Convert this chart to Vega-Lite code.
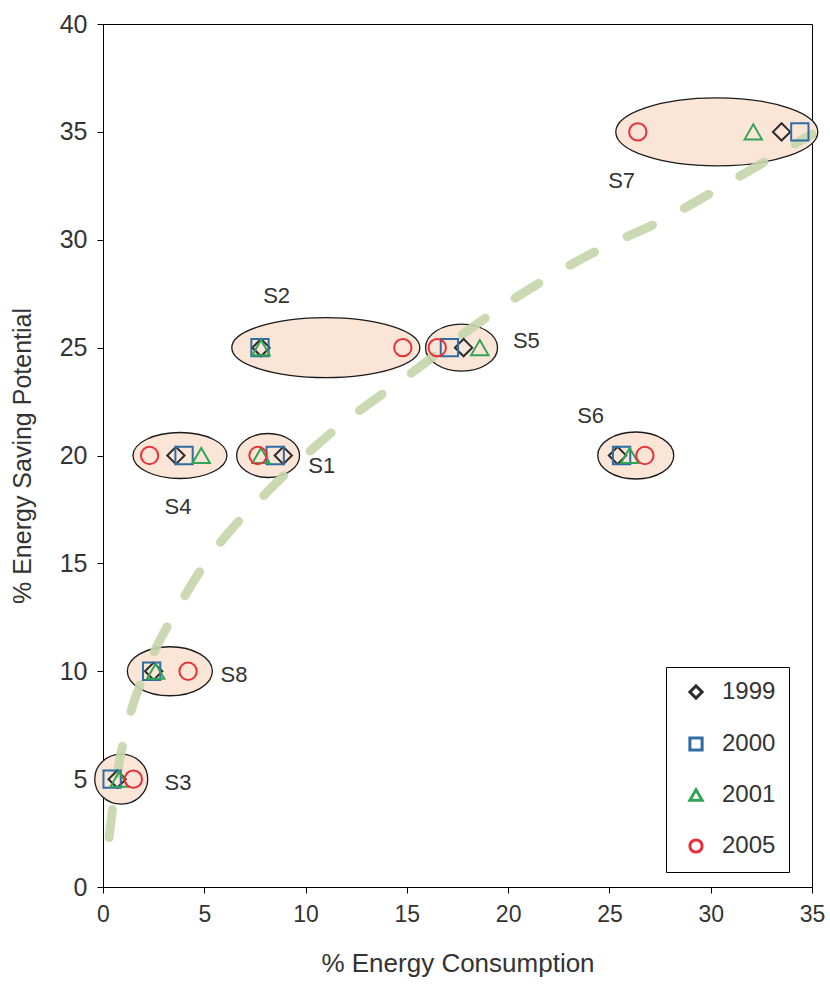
{
  "$schema": "https://vega.github.io/schema/vega-lite/v6.json",
  "width": 709,
  "height": 863,
  "autosize": {"type": "none"},
  "padding": {"left": 103, "top": 24, "right": 18, "bottom": 103},
  "background": "white",
  "config": {
    "font": "Liberation Sans",
    "view": {"stroke": "#000000", "strokeWidth": 1},
    "axis": {
      "grid": false,
      "domainColor": "#000000",
      "tickColor": "#000000",
      "tickSize": 6,
      "labelFlush": false,
      "labelFont": "Liberation Sans",
      "labelColor": "#333333",
      "titleFont": "Liberation Sans",
      "titleFontWeight": "normal",
      "titleColor": "#333333"
    }
  },
  "resolve": {"scale": {"shape": "independent", "color": "independent"}},
  "datasets": {
    "groups": [
      {"group": "S1", "cx": 8.15, "cy": 20},
      {"group": "S2", "cx": 11.0, "cy": 25},
      {"group": "S3", "cx": 0.9, "cy": 5},
      {"group": "S4", "cx": 3.8, "cy": 20},
      {"group": "S5", "cx": 17.7, "cy": 25},
      {"group": "S6", "cx": 26.3, "cy": 20},
      {"group": "S7", "cx": 30.3, "cy": 35},
      {"group": "S8", "cx": 3.3, "cy": 10}
    ],
    "trend": [
      {"x": 0.3, "y": 2.3},
      {"x": 0.7, "y": 5.2},
      {"x": 1.2, "y": 7.5},
      {"x": 2.2, "y": 10.2},
      {"x": 3.55, "y": 12.7},
      {"x": 5.5, "y": 15.6},
      {"x": 8.1, "y": 18.3},
      {"x": 11.2, "y": 21.0},
      {"x": 15.2, "y": 23.8},
      {"x": 19.7, "y": 26.9},
      {"x": 24.4, "y": 29.5},
      {"x": 27.6, "y": 30.9},
      {"x": 30.8, "y": 32.6},
      {"x": 35.0, "y": 34.9}
    ],
    "points": [
      {"group": "S1", "year": "1999", "x": 8.9, "y": 20},
      {"group": "S1", "year": "2000", "x": 8.5, "y": 20},
      {"group": "S1", "year": "2001", "x": 7.8, "y": 20},
      {"group": "S1", "year": "2005", "x": 7.65, "y": 20},
      {"group": "S2", "year": "1999", "x": 7.8, "y": 25},
      {"group": "S2", "year": "2000", "x": 7.75, "y": 25},
      {"group": "S2", "year": "2001", "x": 7.8, "y": 25},
      {"group": "S2", "year": "2005", "x": 14.8, "y": 25},
      {"group": "S3", "year": "1999", "x": 0.7, "y": 5},
      {"group": "S3", "year": "2000", "x": 0.45, "y": 5},
      {"group": "S3", "year": "2001", "x": 0.8, "y": 5},
      {"group": "S3", "year": "2005", "x": 1.5, "y": 5},
      {"group": "S4", "year": "1999", "x": 3.6, "y": 20},
      {"group": "S4", "year": "2000", "x": 4.0, "y": 20},
      {"group": "S4", "year": "2001", "x": 4.85, "y": 20},
      {"group": "S4", "year": "2005", "x": 2.3, "y": 20},
      {"group": "S5", "year": "1999", "x": 17.8, "y": 25},
      {"group": "S5", "year": "2000", "x": 17.1, "y": 25},
      {"group": "S5", "year": "2001", "x": 18.6, "y": 25},
      {"group": "S5", "year": "2005", "x": 16.5, "y": 25},
      {"group": "S6", "year": "1999", "x": 25.4, "y": 20},
      {"group": "S6", "year": "2000", "x": 25.6, "y": 20},
      {"group": "S6", "year": "2001", "x": 26.0, "y": 20},
      {"group": "S6", "year": "2005", "x": 26.75, "y": 20},
      {"group": "S7", "year": "1999", "x": 33.5, "y": 35},
      {"group": "S7", "year": "2000", "x": 34.4, "y": 35},
      {"group": "S7", "year": "2001", "x": 32.1, "y": 35},
      {"group": "S7", "year": "2005", "x": 26.4, "y": 35},
      {"group": "S8", "year": "1999", "x": 2.5, "y": 10},
      {"group": "S8", "year": "2000", "x": 2.4, "y": 10},
      {"group": "S8", "year": "2001", "x": 2.6, "y": 10},
      {"group": "S8", "year": "2005", "x": 4.2, "y": 10}
    ],
    "labels": [
      {"label": "S1", "x": 10.8, "y": 19.5},
      {"label": "S2", "x": 8.57, "y": 27.4},
      {"label": "S3", "x": 3.7, "y": 4.84},
      {"label": "S4", "x": 3.7, "y": 17.6},
      {"label": "S5", "x": 20.9, "y": 25.3},
      {"label": "S6", "x": 24.07, "y": 21.83},
      {"label": "S7", "x": 25.6, "y": 32.7},
      {"label": "S8", "x": 6.47, "y": 9.83}
    ]
  },
  "layer": [
    {
      "data": {"name": "groups"},
      "mark": {"type": "point", "filled": false, "fill": "#fbe5d6", "fillOpacity": 1, "stroke": "#1a1a1a", "strokeOpacity": 1, "strokeWidth": 1.3, "size": 4, "opacity": 1},
      "encoding": {
        "x": {"field": "cx", "type": "quantitative", "scale": {"domain": [0, 35], "nice": false, "zero": true}, "axis": {"values": [0, 5, 10, 15, 20, 25, 30, 35], "title": "% Energy Consumption", "labelFontSize": 23, "titleFontSize": 26, "labelPadding": 10, "titlePadding": 24}},
        "y": {"field": "cy", "type": "quantitative", "scale": {"domain": [0, 40], "nice": false}, "axis": {"values": [0, 5, 10, 15, 20, 25, 30, 35, 40], "title": "% Energy Saving Potential", "labelFontSize": 25, "titleFontSize": 25, "labelPadding": 10, "titlePadding": 24}},
        "shape": {
          "field": "group",
          "type": "nominal",
          "legend": null,
          "scale": {
            "domain": ["S1", "S2", "S3", "S4", "S5", "S6", "S7", "S8"],
            "range": [
              "M -31.5 0 A 31.5 22 0 1 0 31.5 0 A 31.5 22 0 1 0 -31.5 0 Z",
              "M -94 0 A 94 30 0 1 0 94 0 A 94 30 0 1 0 -94 0 Z",
              "M -26.5 0 A 26.5 25 0 1 0 26.5 0 A 26.5 25 0 1 0 -26.5 0 Z",
              "M -47 0 A 47 23 0 1 0 47 0 A 47 23 0 1 0 -47 0 Z",
              "M -36 0 A 36 23.5 0 1 0 36 0 A 36 23.5 0 1 0 -36 0 Z",
              "M -38 0 A 38 23.5 0 1 0 38 0 A 38 23.5 0 1 0 -38 0 Z",
              "M -101 0 A 101 34 0 1 0 101 0 A 101 34 0 1 0 -101 0 Z",
              "M -42.5 0 A 42.5 24.5 0 1 0 42.5 0 A 42.5 24.5 0 1 0 -42.5 0 Z"
            ]
          }
        }
      }
    },
    {
      "data": {"name": "trend"},
      "mark": {"type": "line", "interpolate": "monotone", "stroke": "#c5d5aa", "strokeWidth": 9, "strokeDash": [28, 36], "strokeCap": "round", "opacity": 0.9},
      "encoding": {
        "x": {"field": "x", "type": "quantitative"},
        "y": {"field": "y", "type": "quantitative"}
      }
    },
    {
      "data": {"name": "points"},
      "mark": {"type": "point", "filled": false, "size": 300, "strokeWidth": 2, "opacity": 1},
      "encoding": {
        "x": {"field": "x", "type": "quantitative"},
        "y": {"field": "y", "type": "quantitative"},
        "shape": {
          "field": "year",
          "type": "nominal",
          "scale": {"domain": ["1999", "2000", "2001", "2005"], "range": ["diamond", "square", "triangle-up", "circle"]},
          "legend": {
            "orient": "none",
            "legendX": 563,
            "legendY": 643,
            "direction": "vertical",
            "title": null,
            "strokeColor": "#000000",
            "fillColor": "#ffffff",
            "padding": 13,
            "symbolSize": 150,
            "symbolStrokeWidth": 3,
            "symbolOffset": 5,
            "labelFontSize": 24,
            "labelFont": "Liberation Sans",
            "labelColor": "#333333",
            "labelOffset": 14,
            "rowPadding": 26
          }
        },
        "color": {
          "field": "year",
          "type": "nominal",
          "scale": {"domain": ["1999", "2000", "2001", "2005"], "range": ["#2b2b2b", "#2e6da4", "#33a457", "#e8303a"]},
          "legend": {
            "orient": "none",
            "legendX": 563,
            "legendY": 643,
            "direction": "vertical",
            "title": null,
            "strokeColor": "#000000",
            "fillColor": "#ffffff",
            "padding": 13,
            "symbolSize": 150,
            "symbolStrokeWidth": 3,
            "symbolOffset": 5,
            "labelFontSize": 24,
            "labelFont": "Liberation Sans",
            "labelColor": "#333333",
            "labelOffset": 14,
            "rowPadding": 26
          }
        }
      }
    },
    {
      "data": {"name": "labels"},
      "mark": {"type": "text", "fontSize": 22, "font": "Liberation Sans", "color": "#333333", "align": "center", "baseline": "middle"},
      "encoding": {
        "x": {"field": "x", "type": "quantitative"},
        "y": {"field": "y", "type": "quantitative"},
        "text": {"field": "label"}
      }
    }
  ]
}
